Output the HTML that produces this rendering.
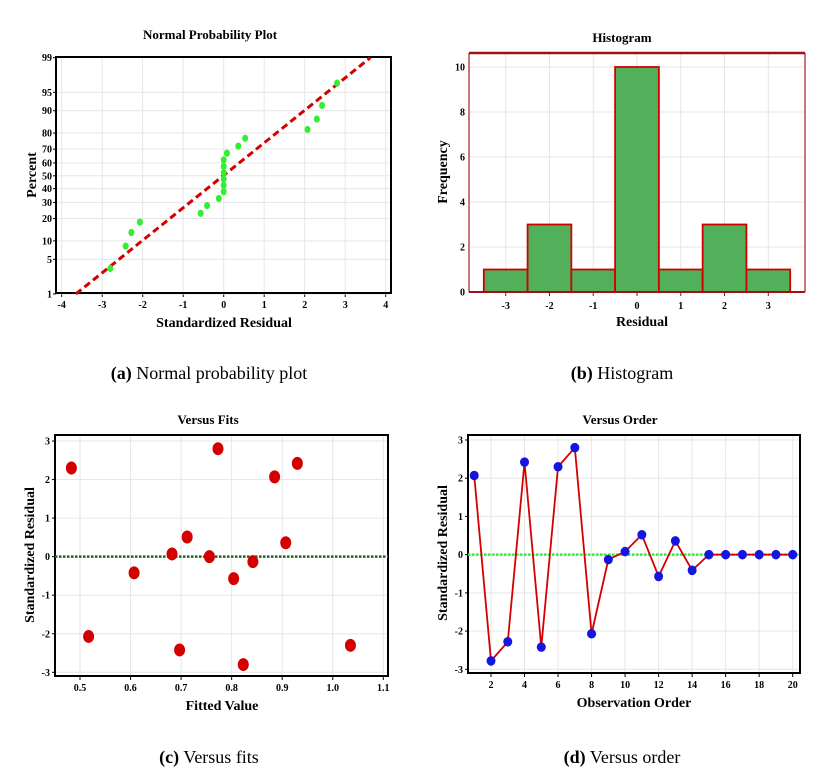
<!DOCTYPE html>
<html><head><meta charset="utf-8"><style>
html,body{margin:0;padding:0;background:#fff;}
svg{display:block;font-family:"Liberation Serif",serif;}
.t{font-weight:bold;font-size:13px;}
.tk{font-weight:bold;font-size:10px;}
.al{font-weight:bold;font-size:14px;}
.cap{font-size:18px;}
</style></head><body>
<svg id="s" width="839" height="780"></svg>
<script>
// ---- data ----
const npX=[-2.8,-2.42,-2.28,-2.07,-0.57,-0.41,-0.12,0,0,0,0,0,0,0.08,0.36,0.53,2.07,2.3,2.43,2.8];
const npPct=[3.4,8.3,13.2,18.1,23,27.9,32.8,37.7,42.6,47.5,52.5,57.4,62.3,67.2,72.1,77,81.9,86.8,91.7,96.6];
const npYTicks=[1,5,10,20,30,40,50,60,70,80,90,95,99];
const npXTicks=[-4,-3,-2,-1,0,1,2,3,4];
const fitMu=-0.015, fitSigma=1.563;
const histBins=[-3,-2,-1,0,1,2,3];
const histCounts=[1,3,1,10,1,3,1];
const histYTicks=[0,2,4,6,8,10];
const vfFit=[0.483,0.517,0.607,0.682,0.697,0.712,0.756,0.773,0.804,0.823,0.842,0.885,0.907,0.93,1.035];
const vfRes=[2.3,-2.07,-0.42,0.07,-2.42,0.51,0.0,2.8,-0.57,-2.8,-0.13,2.07,0.36,2.42,-2.3];
const vfXTicks=[0.5,0.6,0.7,0.8,0.9,1.0,1.1];
const resYTicks=[-3,-2,-1,0,1,2,3];
const voOrder=[1,2,3,4,5,6,7,8,9,10,11,12,13,14,15,16,17,18,19,20];
const voRes=[2.07,-2.78,-2.28,2.42,-2.42,2.3,2.8,-2.07,-0.13,0.08,0.52,-0.57,0.36,-0.41,0,0,0,0,0,0];
const voXTicks=[2,4,6,8,10,12,14,16,18,20];

const S=document.getElementById('s');const NS='http://www.w3.org/2000/svg';
function el(t,a,p){const e=document.createElementNS(NS,t);for(const k in a)e.setAttribute(k,a[k]);(p||S).appendChild(e);return e;}
function txt(x,y,s,cls,anchor,rot){const e=el('text',{x:x,y:y,class:cls,'text-anchor':anchor||'middle'});if(rot)e.setAttribute('transform','rotate(-90 '+x+' '+y+')');e.textContent=s;return e;}
function lin(d0,d1,r0,r1){return v=>r0+(v-d0)*(r1-r0)/(d1-d0);}
// inverse normal (Acklam)
function qnorm(p){const a=[-39.69683028665376,220.9460984245205,-275.9285104469687,138.3577518672690,-30.66479806614716,2.506628277459239],b=[-54.47609879822406,161.5858368580409,-155.6989798598866,66.80131188771972,-13.28068155288572],c=[-0.007784894002430293,-0.3223964580411365,-2.400758277161838,-2.549732539343734,4.374664141464968,2.938163982698783],d=[0.007784695709041462,0.3224671290700398,2.445134137142996,3.754408661907416];let q,r;if(p<0.02425){q=Math.sqrt(-2*Math.log(p));return(((((c[0]*q+c[1])*q+c[2])*q+c[3])*q+c[4])*q+c[5])/((((d[0]*q+d[1])*q+d[2])*q+d[3])*q+1);}if(p>1-0.02425){q=Math.sqrt(-2*Math.log(1-p));return-(((((c[0]*q+c[1])*q+c[2])*q+c[3])*q+c[4])*q+c[5])/((((d[0]*q+d[1])*q+d[2])*q+d[3])*q+1);}q=p-0.5;r=q*q;return(((((a[0]*r+a[1])*r+a[2])*r+a[3])*r+a[4])*r+a[5])*q/(((((b[0]*r+b[1])*r+b[2])*r+b[3])*r+b[4])*r+1);}

// ---- Panel A ----
(function(){
const g=el('g',{});

const L=56,R=391,T=57,B=293;
const X=lin(-4,4,61.7,385.7);const zTop=qnorm(0.99);const Y=p=>175.8-qnorm(p/100)*(236.3/(2*zTop));
for(const t of npXTicks){el('line',{x1:X(t),x2:X(t),y1:T,y2:B,stroke:'#e6e6e6'},g);el('line',{x1:X(t),x2:X(t),y1:B,y2:B+4,stroke:'#000'},g);txt(X(t),B+15,String(t),'tk','middle');}
for(const t of npYTicks){el('line',{x1:L,x2:R,y1:Y(t),y2:Y(t),stroke:'#e6e6e6'},g);el('line',{x1:L-3,x2:L,y1:Y(t),y2:Y(t),stroke:'#000'},g);txt(L-4,Y(t)+3.5,String(t),'tk','end');}
el('rect',{x:L,y:T,width:R-L,height:B-T,fill:'none',stroke:'#000','stroke-width':2},g);
const p1=0.99,p0=0.01;
const fl=el('line',{x1:X(fitMu+fitSigma*qnorm(p0)),y1:Y(1),x2:X(fitMu+fitSigma*qnorm(p1)),y2:Y(99),stroke:'#d40000','stroke-width':3,'stroke-dasharray':'7,4'},g);

npX.forEach((v,i)=>{const c=el('ellipse',{cx:X(v),cy:Y(npPct[i]),rx:3,ry:3.6,fill:'#33ee33'},g);
});
txt(210,39,'Normal Probability Plot','t');
txt(224,327,'Standardized Residual','al');
txt(36,175,'Percent','al','middle',true);
})();

// ---- Panel B ----
(function(){
const g=el('g',{});

const L=469,R=805,T=53,B=292;
const X=lin(-3,3,505.7,768.3);const Y=lin(0,10,292,67);
for(const t of histBins){el('line',{x1:X(t),x2:X(t),y1:T,y2:B,stroke:'#e6e6e6'},g);el('line',{x1:X(t),x2:X(t),y1:B,y2:B+4,stroke:'#a00'},g);txt(X(t),B+17,String(t),'tk');}
for(const t of histYTicks){el('line',{x1:L,x2:R,y1:Y(t),y2:Y(t),stroke:'#e6e6e6'},g);txt(L-4,Y(t)+3.5,String(t),'tk','end');}
el('line',{x1:L,x2:L,y1:T,y2:B,stroke:'#c77','stroke-width':2},g);
el('line',{x1:R,x2:R,y1:T,y2:B,stroke:'#c77','stroke-width':2},g);
el('line',{x1:L,x2:R,y1:T,y2:T,stroke:'#a01010','stroke-width':2.5},g);
histBins.forEach((b,i)=>{const r=el('rect',{x:X(b-0.5),y:Y(histCounts[i]),width:X(b+0.5)-X(b-0.5),height:Y(0)-Y(histCounts[i]),fill:'#52b05a',stroke:'#d40000','stroke-width':1.8},g);
});
el('line',{x1:L,x2:R,y1:B,y2:B,stroke:'#a01010','stroke-width':2},g);
txt(622,42,'Histogram','t');
txt(642,326,'Residual','al');
txt(447,172,'Frequency','al','middle',true);
})();

// ---- Panel C ----
(function(){
const g=el('g',{});

const L=55,R=388,T=435,B=676;
const X=lin(0.5,1.1,80,383.3);const Y=lin(3,-3,441,672.3);
for(const t of vfXTicks){el('line',{x1:X(t),x2:X(t),y1:T,y2:B,stroke:'#e6e6e6'},g);el('line',{x1:X(t),x2:X(t),y1:B,y2:B+4,stroke:'#000'},g);txt(X(t),B+15,t.toFixed(1),'tk');}
for(const t of resYTicks){el('line',{x1:L,x2:R,y1:Y(t),y2:Y(t),stroke:'#e6e6e6'},g);el('line',{x1:L-3,x2:L,y1:Y(t),y2:Y(t),stroke:'#000'},g);txt(L-5,Y(t)+3.5,String(t),'tk','end');}
el('rect',{x:L,y:T,width:R-L,height:B-T,fill:'none',stroke:'#000','stroke-width':2},g);
el('line',{x1:L,x2:R,y1:Y(0),y2:Y(0),stroke:'#1a6b1a','stroke-width':2.5,'stroke-dasharray':'2.5,1.5'},g);
vfFit.forEach((v,i)=>{const c=el('ellipse',{cx:X(v),cy:Y(vfRes[i]),rx:5.5,ry:6.5,fill:'#d40000'},g);
});
txt(208,424,'Versus Fits','t');
txt(222,710,'Fitted Value','al');
txt(34,555,'Standardized Residual','al','middle',true);
})();

// ---- Panel D ----
(function(){
const g=el('g',{});

const L=468,R=800,T=435,B=673;
const X=lin(2,20,491,792.7);const Y=lin(3,-3,440,669.3);
for(const t of voXTicks){el('line',{x1:X(t),x2:X(t),y1:T,y2:B,stroke:'#e6e6e6'},g);el('line',{x1:X(t),x2:X(t),y1:B,y2:B+4,stroke:'#000'},g);txt(X(t),B+15,String(t),'tk');}
for(const t of resYTicks){el('line',{x1:L,x2:R,y1:Y(t),y2:Y(t),stroke:'#e6e6e6'},g);el('line',{x1:L-3,x2:L,y1:Y(t),y2:Y(t),stroke:'#000'},g);txt(L-5,Y(t)+3.5,String(t),'tk','end');}
el('rect',{x:L,y:T,width:R-L,height:B-T,fill:'none',stroke:'#000','stroke-width':2},g);
el('line',{x1:L,x2:R,y1:Y(0),y2:Y(0),stroke:'#33ee33','stroke-width':2.5,'stroke-dasharray':'2.5,1.5'},g);
const pl=el('polyline',{points:voOrder.map((o,i)=>X(o)+','+Y(voRes[i])).join(' '),fill:'none',stroke:'#d40000','stroke-width':1.8},g);

voOrder.forEach((o,i)=>{const c=el('ellipse',{cx:X(o),cy:Y(voRes[i]),rx:4.5,ry:4.8,fill:'#1515e0'},g);
});
txt(620,424,'Versus Order','t');
txt(634,707,'Observation Order','al');
txt(447,553,'Standardized Residual','al','middle',true);
})();

// captions
function cap(x,y,lab,rest,name){const e=el('text',{x:x,y:y,class:'cap','text-anchor':'middle'});
const b=el('tspan',{'font-weight':'bold'},e);b.textContent=lab;const r=el('tspan',{},e);r.textContent=' '+rest;}
cap(209,379,'(a)','Normal probability plot','caption-a');
cap(622,379,'(b)','Histogram','caption-b');
cap(209,763,'(c)','Versus fits','caption-c');
cap(622,763,'(d)','Versus order','caption-d');
</script>
</body></html>
